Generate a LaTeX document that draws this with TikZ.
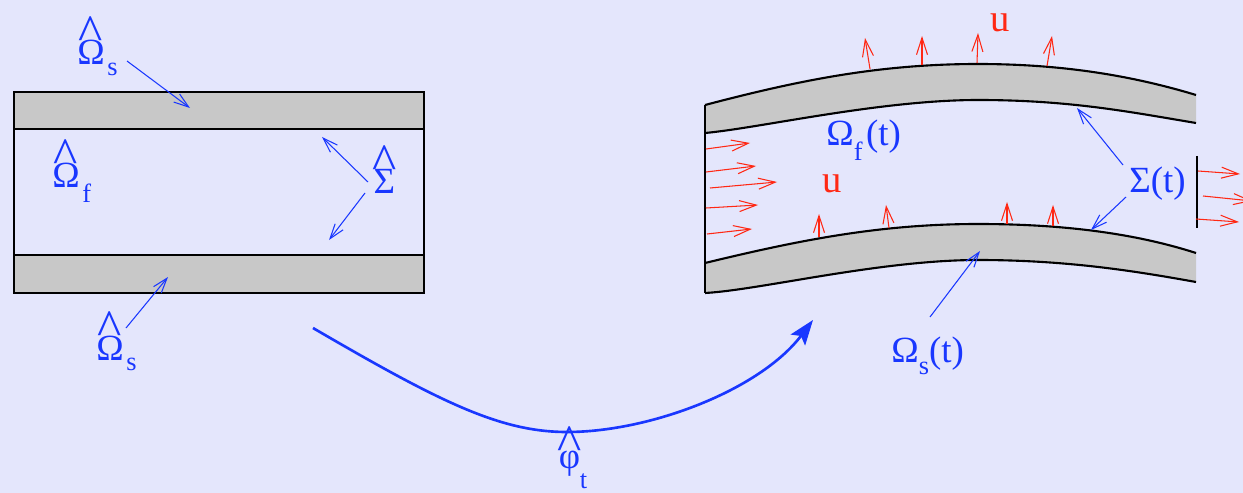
\documentclass[tikz,border=0pt]{standalone}
\usepackage{fontspec}
\setmainfont{Liberation Serif}
\usepackage{xcolor}
\definecolor{fsiblue}{RGB}{25,55,255}
\definecolor{fsired}{RGB}{255,40,20}
\definecolor{fsigray}{RGB}{200,200,200}
\definecolor{fsibg}{RGB}{228,230,252}
\usetikzlibrary{arrows.meta,positioning}

% hat set over a letter, sub set low
\newcommand{\hatop}[1]{\leavevmode\vbox{\offinterlineskip\halign{\hfil##\hfil\cr\scalebox{1.4}{\textasciicircum}\cr\noalign{\kern-0.27em}#1\cr}}}
\newcommand{\lowsub}[2]{\raisebox{-#1}{\fontsize{15}{15}\selectfont #2}}

\tikzset{
  wall/.style={fill=fsigray, draw=black, line width=1.2pt},
  edge/.style={draw=black, line width=1.2pt},
  lbl/.style={text=fsiblue, font=\fontsize{21}{24}\selectfont, inner sep=0pt, anchor=base west},
  ulbl/.style={text=fsired, font=\fontsize{22}{24}\selectfont, inner sep=0pt, anchor=base west},
  vel/.style={draw=fsired, line width=0.6pt, -{Straight Barb[length=3.4mm,width=2.2mm]}},
  pointer/.style={draw=fsiblue, line width=0.6pt, -{Straight Barb[length=3mm,width=2mm]}},
  mapping/.style={draw=fsiblue, line width=1.5pt, -{Stealth[length=5mm,width=3.6mm,inset=1mm]}},
}

\begin{document}
\begin{tikzpicture}[x=0.02cm, y=-0.02cm]
  % background
  \fill[fsibg] (0,0) rectangle (1243,493);
  \useasboundingbox (0,0) rectangle (1243,493);

  % reference channel
  \draw[edge] (14,129) rectangle (424,255);
  \draw[wall] (14,92) rectangle (424,129);
  \draw[wall] (14,255) rectangle (424,293);

  % reference labels
  \node[lbl] (osTop) at (77,65) {\hatop{Ω}\kern1.5pt\lowsub{5.7pt}{s}};
  \node[lbl] (of) at (52,188) {\hatop{Ω}\kern1.5pt\lowsub{8pt}{f}};
  \node[lbl] (sigHat) at (372,194) {\hatop{Σ}};
  \node[lbl] (osBot) at (96,360) {\hatop{Ω}\kern1.5pt\lowsub{5.7pt}{s}};

  \coordinate (osTopFrom) at (127,61);   \coordinate (osTopTo) at (190,108);
  \coordinate (sigUpFrom) at (368,182);  \coordinate (sigUpTo) at (322,137);
  \coordinate (sigDnFrom) at (365,193);  \coordinate (sigDnTo) at (329,240);
  \coordinate (osBotFrom) at (126,328);  \coordinate (osBotTo) at (168,277);
  \draw[pointer] (osTopFrom) -- (osTopTo);
  \draw[pointer] (sigUpFrom) -- (sigUpTo);
  \draw[pointer] (sigDnFrom) -- (sigDnTo);
  \draw[pointer] (osBotFrom) -- (osBotTo);

  % deformed channel
  \fill[fsigray] (705,105) .. controls (800,80) and (880,64) .. (978,64) .. controls (1060,64) and (1130,75) .. (1196,95)
    -- (1196,123) .. controls (1130,112) and (1070,100) .. (978,100) .. controls (880,100) and (760,128) .. (705,133) -- cycle;
  \fill[fsigray] (705,263) .. controls (800,240) and (880,224) .. (978,224) .. controls (1070,224) and (1140,235) .. (1196,253)
    -- (1196,282) .. controls (1140,272) and (1070,260) .. (978,260) .. controls (880,260) and (760,290) .. (705,293) -- cycle;
  \draw[edge] (705,105) .. controls (800,80) and (880,64) .. (978,64) .. controls (1060,64) and (1130,75) .. (1196,95);
  \draw[edge] (705,133) .. controls (760,128) and (880,100) .. (978,100) .. controls (1070,100) and (1130,112) .. (1196,123);
  \draw[edge] (705,263) .. controls (800,240) and (880,224) .. (978,224) .. controls (1070,224) and (1140,235) .. (1196,253);
  \draw[edge] (705,293) .. controls (760,290) and (880,260) .. (978,260) .. controls (1070,260) and (1140,272) .. (1196,282);
  \draw[edge] (705,105) -- (705,293);
  \draw[draw=black, line width=1pt] (1197,156) -- (1197,228);

  % velocity
  \foreach \xa/\ya/\xb/\yb in {870/69/865/38, 922/65/922/36, 977/63/978/33, 1047/66/1052/36,
      819/237/819/214, 889/228/886/205, 1007/224/1007/202, 1053/226/1053/205,
      706/149/750/143, 706/172/756/166, 710/188/777/182, 706/208/758/205, 707/234/752/229,
      1198/171/1240/174, 1203/196/1252/201, 1196/219/1239/222}
    \draw[vel] (\xa,\ya) -- (\xb,\yb);
  \node[ulbl] (uTop) at (990,32) {u};
  \node[ulbl] (uIn) at (822,193) {u};

  % deformed labels
  \node[lbl] (ofT) at (826,146) {Ω\lowsub{8.5pt}{f}\kern2pt(t)};
  \node[lbl] (sigT) at (1129,193) {Σ(t)};
  \node[lbl] (osT) at (891,362) {Ω\lowsub{7pt}{s}(t)};

  \coordinate (sigTUpFrom) at (1123,165); \coordinate (sigTUpTo) at (1077,108);
  \coordinate (sigTDnFrom) at (1126,197); \coordinate (sigTDnTo) at (1091,230);
  \coordinate (osTFrom) at (930,317);     \coordinate (osTTo) at (980,251);
  \draw[pointer] (sigTUpFrom) -- (sigTUpTo);
  \draw[pointer] (sigTDnFrom) -- (sigTDnTo);
  \draw[pointer] (osTFrom) -- (osTTo);

  % mapping
  \coordinate (mapStart) at (313,328);
  \coordinate (mapEnd) at (813,320);
  \draw[mapping] (mapStart) .. controls (440,402) and (500,432) .. (567,432) .. controls (650,432) and (760,390) .. (mapEnd);
  \node[lbl] (phiT) at (557,468) {\hatop{φ}\kern-1pt\lowsub{11.5pt}{t}};
\end{tikzpicture}
\end{document}
